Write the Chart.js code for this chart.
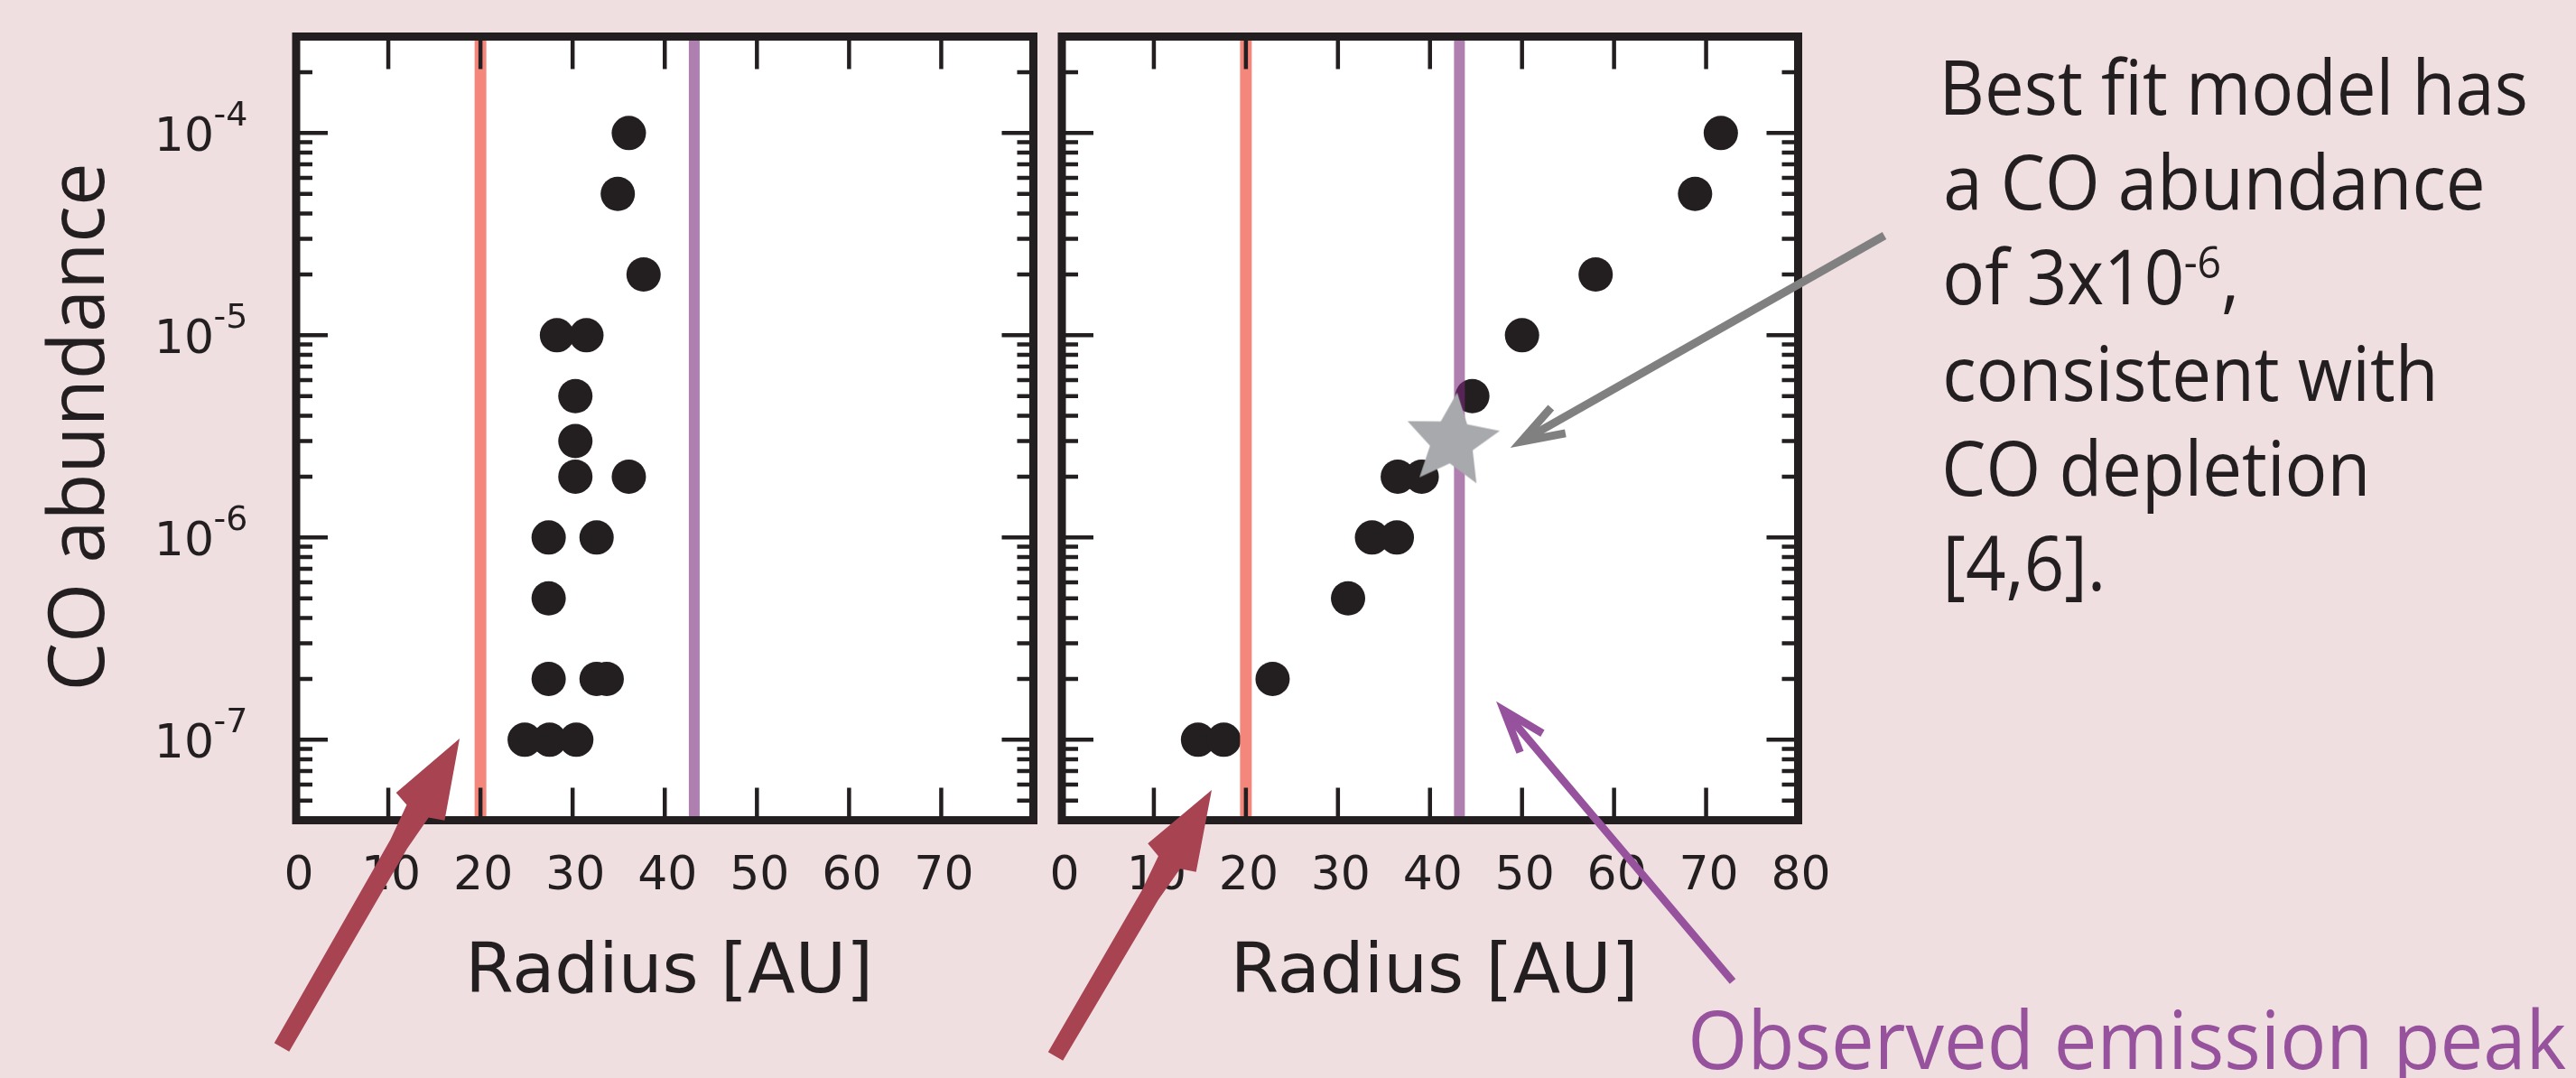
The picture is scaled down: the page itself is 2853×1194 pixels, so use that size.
<!DOCTYPE html>
<html><head><meta charset="utf-8">
<script src="https://cdn.jsdelivr.net/npm/chart.js@4.4.1/dist/chart.umd.min.js"></script>
<style>
html,body{margin:0;padding:0;background:#f0dfe1;width:2853px;height:1194px;overflow:hidden;}
canvas{position:absolute;left:0;top:0;}
</style></head><body>
<canvas id="leftPanel" width="2853" height="1194"></canvas>
<canvas id="rightPanel" width="2853" height="1194"></canvas>
<script>
// ---------------- data ----------------
const leftRadius    = [36.1, 34.9, 37.7, 28.3, 31.5, 30.3, 30.3, 30.3, 36.1, 27.4, 32.6, 27.4, 27.4, 32.6, 33.7, 24.8, 27.5, 30.4];
const leftAbundance = [1e-4, 5e-5, 2e-5, 1e-5, 1e-5, 5e-6, 3e-6, 2e-6, 2e-6, 1e-6, 1e-6, 5e-7, 2e-7, 2e-7, 2e-7, 1e-7, 1e-7, 1e-7];
const rightRadius    = [71.6, 68.8, 58.0, 50.0, 44.6, 36.5, 39.1, 33.7, 36.4, 31.1, 22.9, 14.8, 17.6];
const rightAbundance = [1e-4, 5e-5, 2e-5, 1e-5, 5e-6, 2e-6, 2e-6, 1e-6, 1e-6, 5e-7, 2e-7, 1e-7, 1e-7];
const bestFitRadius    = [42.4];
const bestFitAbundance = [3e-6];
const innerEdgeRadius    = [20];    // salmon line
const emissionPeakRadius = [43.2];  // purple line
const xRange = [0, 80];
const yRange = [4e-8, 3e-4];
const leftXTickLabels  = [0, 10, 20, 30, 40, 50, 60, 70];
const rightXTickLabels = [0, 10, 20, 30, 40, 50, 60, 70, 80];
const xTickMarks = [10, 20, 30, 40, 50, 60, 70];
const yDecadeTicks = [1e-7, 1e-6, 1e-5, 1e-4];
const yDecadeLabels = ['-7', '-6', '-5', '-4'];
const yMinorMultipliers = [2, 3, 4, 5, 6, 7, 8, 9];
const yMinorDecades = [1e-8, 1e-7, 1e-6, 1e-5, 1e-4];

const INK = '#231f20';
const TICK_FONT = '52px "DejaVu Sans"';
const SUP_FONT = '38px "DejaVu Sans"';

// star point image
const starCanvas = document.createElement('canvas');
starCanvas.width = 124; starCanvas.height = 124;
(function(){
  const c = starCanvas.getContext('2d');
  c.translate(62, 62); c.rotate(6 * Math.PI / 180);
  c.beginPath();
  for (let i = 0; i < 10; i++) {
    const r = i % 2 === 0 ? 54 : 25;
    const a = -Math.PI / 2 + i * Math.PI / 5;
    const px = r * Math.cos(a), py = r * Math.sin(a);
    if (i === 0) c.moveTo(px, py); else c.lineTo(px, py);
  }
  c.closePath();
  c.fillStyle = '#a7a9ac';
  c.fill();
})();

function pts(xs, ys) { return xs.map((x, i) => ({x: x, y: ys[i]})); }
function vline(v) { return [{x: v, y: yRange[0]}, {x: v, y: yRange[1]}]; }

function panelPlugin(name, xLabels, showY) {
  return {
    id: 'panel_' + name,
    beforeDatasetsDraw(chart) {
      const {ctx, chartArea: a} = chart;
      ctx.save();
      ctx.fillStyle = '#ffffff';
      ctx.fillRect(a.left, a.top, a.right - a.left, a.bottom - a.top);
      ctx.restore();
    },
    afterDatasetsDraw(chart) {
      const {ctx, chartArea: a, scales: {x, y}} = chart;
      ctx.save();
      ctx.strokeStyle = INK;
      ctx.lineCap = 'butt';
      ctx.lineWidth = 4.5;
      ctx.beginPath();
      xTickMarks.forEach(v => {
        const px = x.getPixelForValue(v);
        ctx.moveTo(px, a.top); ctx.lineTo(px, a.top + 36);
        ctx.moveTo(px, a.bottom); ctx.lineTo(px, a.bottom - 36);
      });
      const ymarks = [];
      yDecadeTicks.forEach(v => ymarks.push([v, 35]));
      yMinorDecades.forEach(d => yMinorMultipliers.forEach(m => ymarks.push([m * d, 18])));
      ymarks.forEach(([v, len]) => {
        if (v < yRange[0] * 0.999 || v > yRange[1] * 0.999) return;
        const py = y.getPixelForValue(v);
        ctx.moveTo(a.left, py); ctx.lineTo(a.left + len, py);
        ctx.moveTo(a.right, py); ctx.lineTo(a.right - len, py);
      });
      ctx.stroke();
      ctx.lineWidth = 9;
      ctx.lineJoin = 'miter';
      ctx.strokeRect(a.left, a.top, a.right - a.left, a.bottom - a.top);

      // x tick labels
      ctx.fillStyle = INK;
      ctx.font = TICK_FONT;
      ctx.textAlign = 'center';
      ctx.textBaseline = 'alphabetic';
      xLabels.forEach(v => {
        ctx.fillText(String(v), x.getPixelForValue(v) + 3, a.bottom + 76);
      });
      // x axis title
      ctx.font = '77px "DejaVu Sans"';
      ctx.fillText('Radius [AU]', (a.left + a.right) / 2 + 5, a.bottom + 190);

      if (showY) {
        yDecadeTicks.forEach((v, i) => {
          const py = y.getPixelForValue(v);
          ctx.font = TICK_FONT;
          ctx.textAlign = 'right';
          ctx.fillText('10', a.left - 91, py + 19.5);
          ctx.font = SUP_FONT;
          ctx.textAlign = 'left';
          ctx.fillText(yDecadeLabels[i], a.left - 91.5, py - 8.5);
        });
        // y axis title (rotated)
        ctx.save();
        ctx.font = '86px "Open Sans"';
        ctx.textAlign = 'left';
        const t = 'CO abundance';
        const m = ctx.measureText(t);
        const inkW = m.actualBoundingBoxRight + m.actualBoundingBoxLeft;
        const sx = 576 / inkW;
        ctx.translate(a.left - 213, 760.5);
        ctx.rotate(-Math.PI / 2);
        ctx.scale(sx, 1);
        ctx.fillText(t, m.actualBoundingBoxLeft, 0);
        ctx.restore();
      }
      ctx.restore();
    }
  };
}

// --------------- annotations ---------------
function fittedLine(ctx, font, text, inkLeft, baseline, sx) {
  ctx.font = font;
  const m = ctx.measureText(text);
  ctx.save();
  ctx.translate(inkLeft, baseline);
  ctx.scale(sx, 1);
  ctx.fillText(text, m.actualBoundingBoxLeft, 0);
  ctx.restore();
  return m;
}

function filledArrow(ctx, tail, tip, color) {
  const dx = tip[0] - tail[0], dy = tip[1] - tail[1];
  const L = Math.hypot(dx, dy);
  const u = [dx / L, dy / L], n = [-u[1], u[0]];
  const P = (along, perp) => [tip[0] - u[0] * along + n[0] * perp, tip[1] - u[1] * along + n[1] * perp];
  const poly = [
    P(0, 0), P(87, 31), P(93, 14), P(135, 10.5), P(L, 9.5),
    P(L, -9.5), P(135, -10.5), P(93, -14), P(87, -31)
  ];
  ctx.beginPath();
  poly.forEach((p, i) => i ? ctx.lineTo(p[0], p[1]) : ctx.moveTo(p[0], p[1]));
  ctx.closePath();
  ctx.fillStyle = color;
  ctx.fill();
}

function lineArrow(ctx, tail, tip, width, color) {
  const dx = tip[0] - tail[0], dy = tip[1] - tail[1];
  const L = Math.hypot(dx, dy);
  const u = [dx / L, dy / L];
  const back = 10;
  const t = [tip[0] - u[0] * back, tip[1] - u[1] * back];
  const ang = Math.atan2(-u[1], -u[0]);
  const bl = 50, da = 19 * Math.PI / 180;
  ctx.save();
  ctx.strokeStyle = color;
  ctx.lineWidth = width;
  ctx.lineCap = 'butt';
  ctx.lineJoin = 'miter';
  ctx.miterLimit = 10;
  ctx.beginPath();
  ctx.moveTo(tail[0], tail[1]);
  ctx.lineTo(t[0] - u[0] * 4, t[1] - u[1] * 4);
  ctx.stroke();
  ctx.beginPath();
  ctx.moveTo(t[0] + bl * Math.cos(ang + da), t[1] + bl * Math.sin(ang + da));
  ctx.lineTo(t[0], t[1]);
  ctx.lineTo(t[0] + bl * Math.cos(ang - da), t[1] + bl * Math.sin(ang - da));
  ctx.stroke();
  ctx.restore();
}

const annotationPlugin = {
  id: 'annotations',
  afterDraw(chart) {
    const ctx = chart.ctx;
    ctx.save();
    // arrows
    filledArrow(ctx, [312, 1160], [509, 818], '#a84352');
    filledArrow(ctx, [1169, 1170], [1342, 875], '#a84352');
    lineArrow(ctx, [2087, 261], [1676, 494], 9, '#808080');
    lineArrow(ctx, [1919, 1087], [1659, 779], 8.5, '#96529c');

    // right-hand text block
    ctx.fillStyle = INK;
    ctx.textAlign = 'left';
    ctx.textBaseline = 'alphabetic';
    const F = '84px "Open Sans"';
    ctx.font = F;
    const m0 = ctx.measureText('Best fit model has');
    const sx = 642 / (m0.actualBoundingBoxRight + m0.actualBoundingBoxLeft);
    const x0 = 2155;
    fittedLine(ctx, F, 'Best fit model has', x0, 127, sx);
    fittedLine(ctx, F, 'a CO abundance', x0, 232, sx);
    const m3 = fittedLine(ctx, F, 'of 3x10', x0, 337, sx);
    const endMain = x0 + (m3.actualBoundingBoxRight + m3.actualBoundingBoxLeft) * sx;
    ctx.font = '50px "Open Sans"';
    const ms = ctx.measureText('-6');
    ctx.save(); ctx.translate(endMain + 5, 308); ctx.scale(sx, 1);
    ctx.fillText('-6', ms.actualBoundingBoxLeft, 0); ctx.restore();
    const endSup = endMain + 5 + (ms.actualBoundingBoxRight + ms.actualBoundingBoxLeft) * sx;
    fittedLine(ctx, F, ',', endSup + 4, 337, sx);
    fittedLine(ctx, F, 'consistent with', x0, 444, sx);
    fittedLine(ctx, F, 'CO depletion', x0, 549, sx);
    fittedLine(ctx, F, '[4,6].', x0 + 2, 654, sx);

    // purple label
    ctx.fillStyle = '#96529c';
    const FP = '90px "Open Sans"';
    ctx.font = FP;
    const mp = ctx.measureText('Observed emission peak');
    const sp = 968 / (mp.actualBoundingBoxRight + mp.actualBoundingBoxLeft);
    fittedLine(ctx, FP, 'Observed emission peak', 1874, 1184, sp);
    ctx.restore();
  }
};

function makePanel(canvasId, radius, abundance, withStar, padLeft, padRight, xLabels, showY, extraPlugins) {
  const datasets = [];
  if (withStar) {
    datasets.push({
      data: pts(bestFitRadius, bestFitAbundance),
      pointStyle: starCanvas, pointRadius: 54, order: 1
    });
  }
  datasets.push({
    data: vline(innerEdgeRadius[0]), showLine: true, borderColor: '#f4877b',
    borderWidth: 13, pointRadius: 0, borderCapStyle: 'butt', order: 2
  });
  datasets.push({
    data: vline(emissionPeakRadius[0]), showLine: true, borderColor: 'rgba(122,42,122,0.6)',
    borderWidth: 12, pointRadius: 0, borderCapStyle: 'butt', order: 2
  });
  datasets.push({
    data: pts(radius, abundance), pointRadius: 19, pointBackgroundColor: INK,
    pointBorderWidth: 0, backgroundColor: INK, borderWidth: 0, order: 3
  });
  return new Chart(document.getElementById(canvasId), {
    type: 'scatter',
    data: {datasets},
    options: {
      responsive: false, animation: false, devicePixelRatio: 1, events: [],
      layout: {autoPadding: false, padding: {left: padLeft, right: padRight, top: 40.5, bottom: 1194 - 908.5}},
      plugins: {legend: {display: false}, tooltip: {enabled: false}},
      scales: {
        x: {type: 'linear', min: xRange[0], max: xRange[1], display: false},
        y: {type: 'logarithmic', min: yRange[0], max: yRange[1], display: false}
      }
    },
    plugins: [panelPlugin(canvasId, xLabels, showY)].concat(extraPlugins)
  });
}

makePanel('leftPanel', leftRadius, leftAbundance, false, 328, 2853 - 1144.5, leftXTickLabels, true, []);
makePanel('rightPanel', rightRadius, rightAbundance, true, 1176, 2853 - 1991.5, rightXTickLabels, false, [annotationPlugin]);
</script>
</body></html>
